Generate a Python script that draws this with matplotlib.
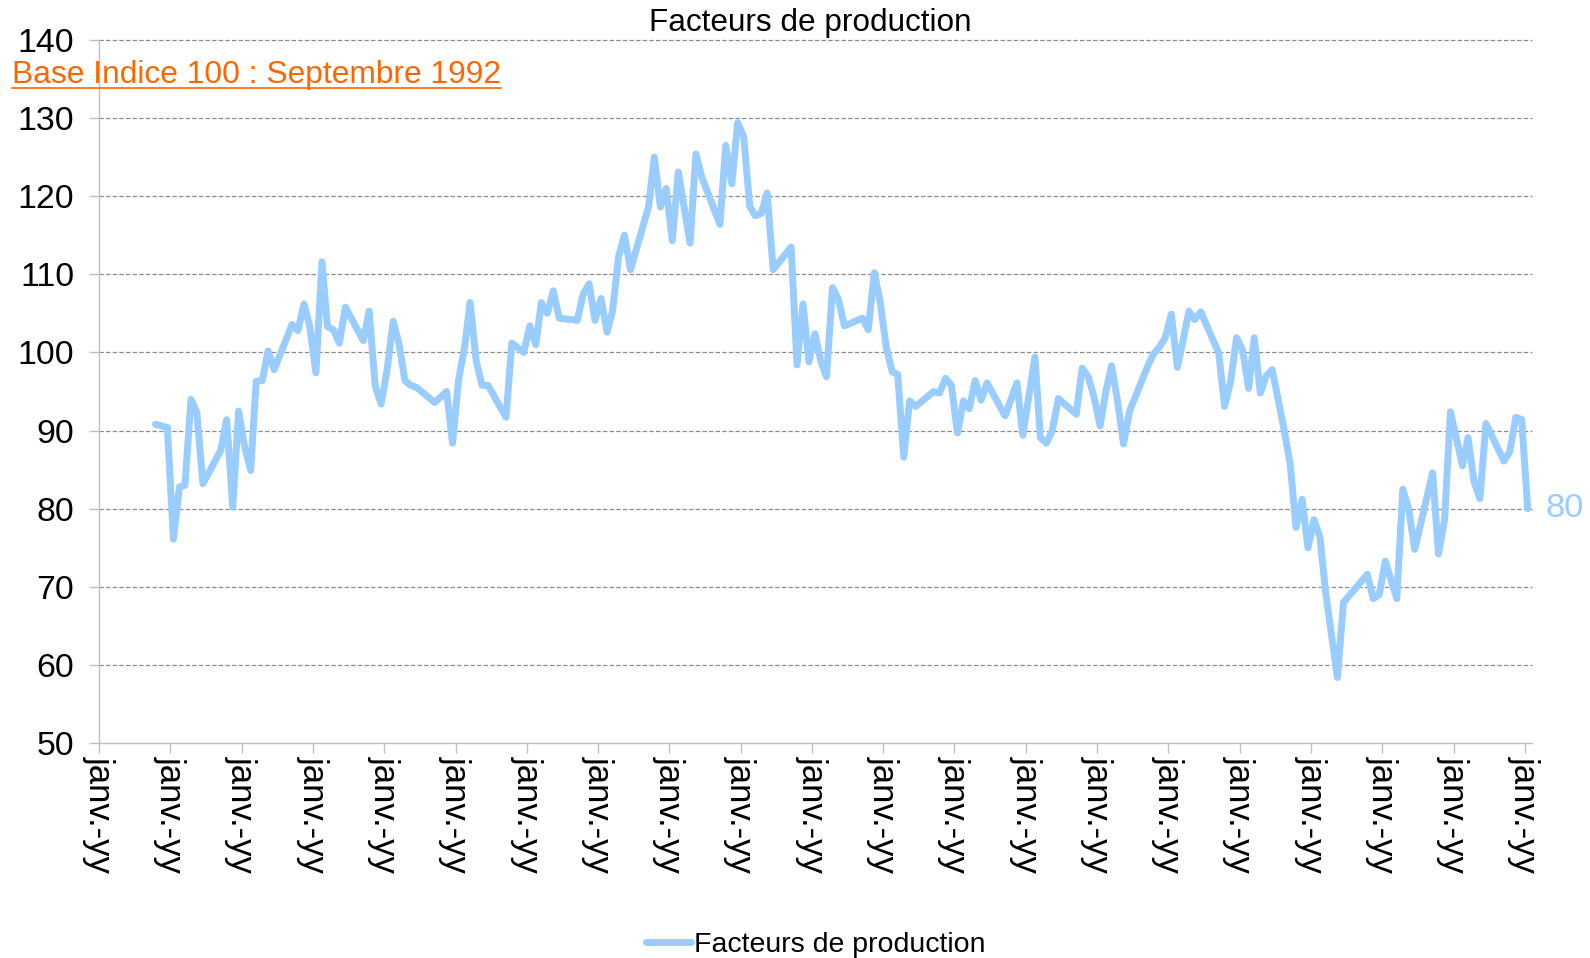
import pandas as pd
import matplotlib
matplotlib.use("Agg")
import matplotlib.pyplot as plt
from matplotlib.lines import Line2D

plt.rcParams['font.family'] = ['Liberation Sans', 'DejaVu Sans']

# monthly index values (summer months are missing in the source)
months = [
    "1992-10", "1992-12",
    "1993-01", "1993-02", "1993-03", "1993-04", "1993-05", "1993-06",
    "1993-09", "1993-10", "1993-11", "1993-12",
    "1994-01", "1994-02", "1994-03", "1994-04", "1994-05", "1994-06",
    "1994-09", "1994-10", "1994-11", "1994-12",
    "1995-01", "1995-02", "1995-03", "1995-04", "1995-05", "1995-06",
    "1995-09", "1995-10", "1995-11", "1995-12",
    "1996-01", "1996-02", "1996-03", "1996-04", "1996-05", "1996-06",
    "1996-09", "1996-11", "1996-12",
    "1997-01", "1997-02", "1997-03", "1997-04", "1997-05", "1997-06",
    "1997-09", "1997-10", "1997-12",
    "1998-01", "1998-02", "1998-03", "1998-04", "1998-05", "1998-06",
    "1998-09", "1998-10", "1998-11", "1998-12",
    "1999-01", "1999-02", "1999-03", "1999-04", "1999-05", "1999-06",
    "1999-09", "1999-10", "1999-11", "1999-12",
    "2000-01", "2000-02", "2000-04", "2000-05", "2000-06",
    "2000-09", "2000-10", "2000-11", "2000-12",
    "2001-01", "2001-02", "2001-03", "2001-04", "2001-05", "2001-06",
    "2001-09", "2001-10", "2001-11", "2001-12",
    "2002-01", "2002-02", "2002-03", "2002-04", "2002-05", "2002-06",
    "2002-09", "2002-10", "2002-11", "2002-12",
    "2003-01", "2003-02", "2003-03", "2003-04", "2003-05", "2003-06",
    "2003-09", "2003-10", "2003-11", "2003-12",
    "2004-01", "2004-02", "2004-03", "2004-04", "2004-05", "2004-06",
    "2004-09", "2004-11", "2004-12",
    "2005-02", "2005-03", "2005-04", "2005-05", "2005-06",
    "2005-09", "2005-10", "2005-11", "2005-12",
    "2006-01", "2006-02", "2006-03", "2006-04", "2006-05", "2006-06",
    "2006-09", "2006-10", "2006-11", "2006-12",
    "2007-01", "2007-02", "2007-03", "2007-04", "2007-05", "2007-06",
    "2007-09", "2007-10", "2007-11", "2007-12",
    "2008-01", "2008-02", "2008-03", "2008-04", "2008-05", "2008-06",
    "2008-08", "2008-09", "2008-10", "2008-11", "2008-12",
    "2009-01", "2009-02", "2009-03", "2009-05", "2009-06",
    "2009-10", "2009-11", "2009-12",
    "2010-01", "2010-03", "2010-04", "2010-05", "2010-06",
    "2010-09", "2010-10", "2010-11", "2010-12",
    "2011-02", "2011-03", "2011-04", "2011-05", "2011-06",
    "2011-09", "2011-10", "2011-11", "2011-12",
    "2012-01",
]

values = [
    90.8, 90.4,
    76.1, 82.8, 83.0, 94.0, 92.3, 83.2,
    87.5, 91.4, 80.2, 92.5,
    87.9, 84.9, 96.3, 96.4, 100.2, 97.8,
    103.6, 102.8, 106.2, 103.3,
    97.4, 111.6, 103.3, 102.9, 101.2, 105.8,
    101.5, 105.3, 95.7, 93.4,
    97.8, 104.0, 101.2, 96.4, 95.8, 95.5,
    93.6, 95.0, 88.4,
    96.5, 100.7, 106.4, 99.0, 95.8, 95.8,
    91.7, 101.2, 100.0,
    103.4, 101.0, 106.4, 105.0, 107.9, 104.4,
    104.1, 107.4, 108.8, 104.1,
    106.9, 102.6, 105.3, 112.3, 115.0, 110.6,
    118.6, 125.0, 118.6, 121.0,
    114.3, 123.1, 114.0, 125.4, 122.4,
    116.4, 126.5, 121.6, 129.4,
    127.6, 118.7, 117.5, 117.8, 120.4, 110.6,
    113.5, 98.4, 106.2, 98.8,
    102.4, 98.8, 96.9, 108.3, 106.8, 103.4,
    104.4, 102.9, 110.2, 106.5,
    100.7, 97.5, 97.2, 86.6, 93.8, 93.1,
    95.0, 94.8, 96.7, 95.8,
    89.7, 93.8, 92.8, 96.4, 93.9, 96.1,
    91.9, 96.1, 89.4,
    99.4, 89.1, 88.4, 90.0, 94.1,
    92.1, 98.0, 96.9, 94.3,
    90.6, 95.2, 98.3, 93.7, 88.3, 92.5,
    98.2, 99.8, 100.7, 101.9,
    104.9, 98.1, 101.4, 105.3, 104.2, 105.2,
    99.9, 93.1, 96.3, 101.9,
    100.3, 95.4, 101.9, 94.8, 97.0, 97.8,
    90.1, 85.7, 77.6, 81.2, 75.0,
    78.6, 76.3, 69.4, 58.4, 68.0,
    71.6, 68.5, 69.0,
    73.3, 68.5, 82.5, 80.0, 74.8,
    84.6, 74.2, 78.6, 92.4,
    85.5, 89.1, 83.5, 81.3, 90.9,
    86.1, 87.3, 91.7, 91.4,
    80.0,
]

series_name = "Facteurs de production"
base_note = "Base Indice 100 : Septembre 1992"
y_ticks = list(range(50, 141, 10))
tick_label = "janv.-yy"

# points sit in the middle of their month slot, like Excel's date axis
dates = pd.to_datetime(months, format="%Y-%m") + pd.Timedelta(days=15)
line_color = "#99CCFF"
axis_gray = "#BFBFBF"

fig = plt.figure(figsize=(15.9, 9.58), dpi=100)
ax = fig.add_axes([0.0623, 0.2243, 0.9011, 0.7340])

for v in y_ticks[1:]:
    ax.axhline(v, color="#8C8C8C", lw=0.9, ls=(0, (3.5, 1.8)), zorder=1, clip_on=False)

ax.plot(dates, values, color=line_color, lw=5.0, solid_joinstyle="round",
        solid_capstyle="round", label=series_name, zorder=3)

ax.set_ylim(50, 140)
ax.set_yticks(y_ticks)
ax.set_xlim(pd.Timestamp("1992-01-01"), pd.Timestamp("2012-02-06"))
years = pd.date_range("1992-01-01", "2012-01-01", freq="YS")
ax.set_xticks(years)
ax.set_xticklabels([tick_label] * len(years), rotation=270, ha="center", va="top")

for s in ["top", "right"]:
    ax.spines[s].set_visible(False)
for s in ["left", "bottom"]:
    ax.spines[s].set_color(axis_gray)
    ax.spines[s].set_linewidth(1.0)

ax.tick_params(axis="both", color=axis_gray, length=7.5, width=1.0)
ax.tick_params(axis="y", pad=10.5, labelsize=24.4)
ax.tick_params(axis="x", pad=2, labelsize=25)

# last value label
ax.annotate(f"{values[-1]:.0f}", xy=(dates[-1], values[-1]), xytext=(13, 0),
            textcoords="offset points", color=line_color, fontsize=24.8,
            va="center", ha="left", annotation_clip=False)

fig.text(810 / 1590, 1 - 23 / 958, series_name, ha="center", va="center", fontsize=22.7)

note = fig.text(12 / 1590, 1 - 83 / 958, base_note, ha="left", va="baseline",
                fontsize=22.9, color="#FF6600")

fig.legend(loc="center", bbox_to_anchor=(0.5129, 0.0135), frameon=False,
           fontsize=20.5, handlelength=1.6, handletextpad=0.1)

# underline the note
fig.canvas.draw()
bb = note.get_window_extent(fig.canvas.get_renderer())
W, H = fig.bbox.width, fig.bbox.height
uy = (H - 88) / H
fig.add_artist(Line2D([bb.x0 / W, bb.x1 / W], [uy, uy], color="#FF6600", lw=1.2))

fig.savefig("out.png", dpi=100)
